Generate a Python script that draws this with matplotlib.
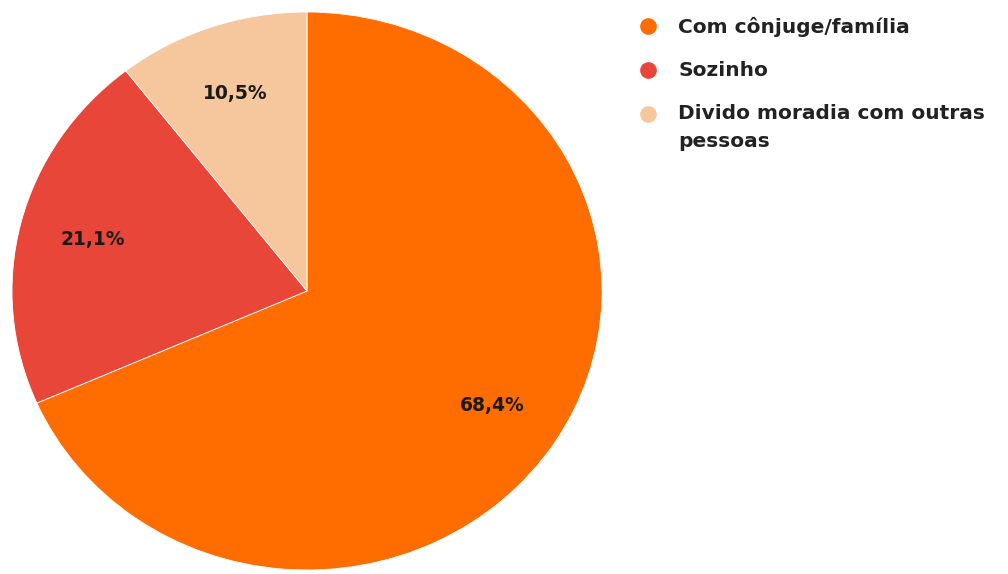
import matplotlib.pyplot as plt
from matplotlib.lines import Line2D

# respostas: com quem mora
labels = ["Com cônjuge/família", "Sozinho", "Divido moradia com outras\npessoas"]
counts = [13, 4, 2]
colors = ["#FF6D01", "#E9463A", "#F6C69C"]

plt.rcParams['font.family'] = ['DejaVu Sans']

fig = plt.figure(figsize=(10.08, 5.74), dpi=100)
W, H = 1008, 574
# pie box in pixels (left, top, width, height)
ax = fig.add_axes([12 / W, (H - 570) / H, 590 / W, 558 / H])

wedges, texts, autotexts = ax.pie(
    counts, colors=colors, startangle=90, counterclock=False,
    autopct=lambda p: f"{p:.1f}%".replace(".", ","), pctdistance=0.75,
    wedgeprops=dict(edgecolor="white", linewidth=0.6),
    textprops=dict(fontsize=13.5, fontweight="bold", color="#1a1a1a"))
ax.set_aspect("auto")
ax.set_xlim(-1, 1)
ax.set_ylim(-1, 1)

# legend drawn by hand
ys = [27, 71, 115]
for lab, col, y in zip(labels, colors, ys):
    fig.add_artist(Line2D([648 / W], [1 - (y - 1) / H], marker="o", markersize=11,
                          color=col, transform=fig.transFigure))
    t = fig.text(678 / W, 1 - y / H, lab, fontsize=14.5, fontweight="bold",
                 color="#222222", va="center", linespacing=1.6)
    if "\n" in lab:
        # two-line entry: anchor at top so the first line sits beside its marker
        t.set_va("top")
        t.set_y(1 - (y - 11) / H)

fig.savefig("out.png", dpi=100)
